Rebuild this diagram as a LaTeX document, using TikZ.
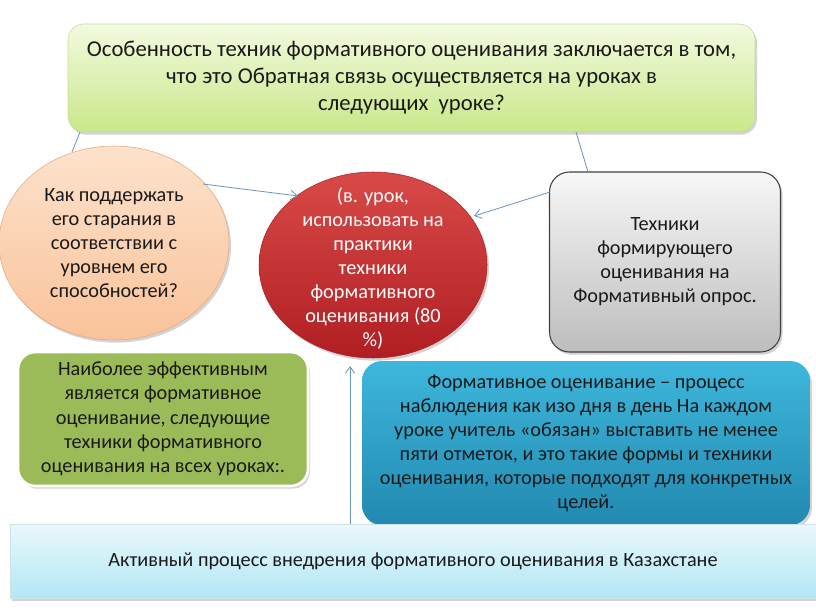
\documentclass[tikz,border=0pt]{standalone}
\usepackage{fontspec}
\setmainfont{Carlito}
\usetikzlibrary{shapes.geometric,shadows,arrows.meta}
\definecolor{lnk}{HTML}{6B93B8}
\definecolor{topA}{HTML}{F3FADF}
\definecolor{topB}{HTML}{C9E88A}
\definecolor{topE}{HTML}{C5D9A0}
\definecolor{orA}{HTML}{FDE2CC}
\definecolor{orB}{HTML}{F9C39A}
\definecolor{orE}{HTML}{E3A77C}
\definecolor{rdA}{HTML}{D84A48}
\definecolor{rdB}{HTML}{B01E22}
\definecolor{gyA}{HTML}{F7F7F7}
\definecolor{gyB}{HTML}{BDBDBD}
\definecolor{grF}{HTML}{9BBB59}
\definecolor{blA}{HTML}{3EB7DC}
\definecolor{blB}{HTML}{2289B0}
\definecolor{btA}{HTML}{EAF8FC}
\definecolor{btB}{HTML}{B2E7F5}
\definecolor{txt}{HTML}{1A1A1A}
\tikzset{
  lbl/.style={align=center,text=txt,font=\fontsize{15.2}{18}\selectfont},
  conn/.style={draw=lnk,line width=0.6pt},
  arr/.style={conn,-{Straight Barb[length=5pt,width=7pt]}},
  sh/.style={drop shadow={shadow xshift=1.5pt,shadow yshift=-2pt,opacity=0.35}}
}
\begin{document}
\begin{tikzpicture}[x=0.75pt,y=-0.75pt]
\useasboundingbox (0,0) rectangle (816,613);
% top box
\node[sh,draw=topE,rounded corners=12pt,top color=topA,bottom color=topB,
  minimum width=687*0.75pt,minimum height=108*0.75pt,inner sep=0pt,
  lbl,font=\fontsize{17}{20.3}\selectfont] (top) at (411.5,78)
  {Особенность техник формативного оценивания заключается в том,\\
   что это Обратная связь осуществляется на уроках в\\
   следующих\ \ уроке?};
% orange ellipse
\node[sh,ellipse,draw=orE,top color=orA,bottom color=orB,
  minimum width=230*0.75pt,minimum height=194*0.75pt,inner sep=0pt,lbl] (or) at (114,243)
  {Как поддержать\\его старания в\\соответствии с\\уровнем его\\способностей?};
% red ellipse
\node[sh,ellipse,draw=rdB,top color=rdA,bottom color=rdB,
  minimum width=228*0.75pt,minimum height=186*0.75pt,inner sep=0pt] (red) at (373,265)
  {};
\node[lbl,text=white] (redt) at (373,268)
  {(в. урок,\\использовать на\\практики\\техники\\формативного\\оценивания (80\\\%)};
% gray box
\node[sh,draw=black!75,line width=0.8pt,rounded corners=15pt,top color=gyA,bottom color=gyB,
  minimum width=231*0.75pt,minimum height=180*0.75pt,inner sep=0pt,lbl] (gray) at (665,262)
  {Техники\\формирующего\\оценивания на\\Формативный опрос.};
% green box
\node[sh,draw=white,line width=2pt,rounded corners=13pt,fill=grF,
  minimum width=290*0.75pt,minimum height=134*0.75pt,inner sep=0pt,lbl,
  font=\fontsize{15.2}{18.2}\selectfont] (green) at (163,419)
  {Наиболее эффективным\\является формативное\\оценивание, следующие\\техники формативного\\оценивания на всех уроках:.};
% blue box
\node[sh,draw=none,rounded corners=15pt,top color=blA,bottom color=blB,
  minimum width=448*0.75pt,minimum height=164*0.75pt,inner sep=0pt,lbl] (blue) at (586,443)
  {Формативное оценивание -- процесс\\наблюдения как изо дня в день На каждом\\уроке учитель «обязан» выставить не менее\\пяти отметок, и это такие формы и техники\\оценивания, которые подходят для конкретных\\целей.};
% bottom box
\node[sh,draw=btB!80!black!40,top color=btA,bottom color=btB,
  minimum width=806*0.75pt,minimum height=74*0.75pt,inner sep=0pt,lbl] (bot) at (413,561)
  {Активный процесс внедрения формативного оценивания в Казахстане};
% connectors
\coordinate (t1) at (80,132);
\coordinate (o1) at (72,152);
\coordinate (t2) at (576,132);
\coordinate (g1) at (588,172);
\coordinate (o2) at (203,184);
\coordinate (r1) at (298,196);
\coordinate (g2) at (550,192);
\coordinate (r2) at (474,216);
\coordinate (b1) at (350,524);
\coordinate (r3) at (350,366);
\draw[conn] (t1) -- (o1);
\draw[conn] (t2) -- (g1);
\draw[arr] (o2) -- (r1);
\draw[arr] (g2) -- (r2);
\draw[arr] (b1) -- (r3);
\end{tikzpicture}
\end{document}
